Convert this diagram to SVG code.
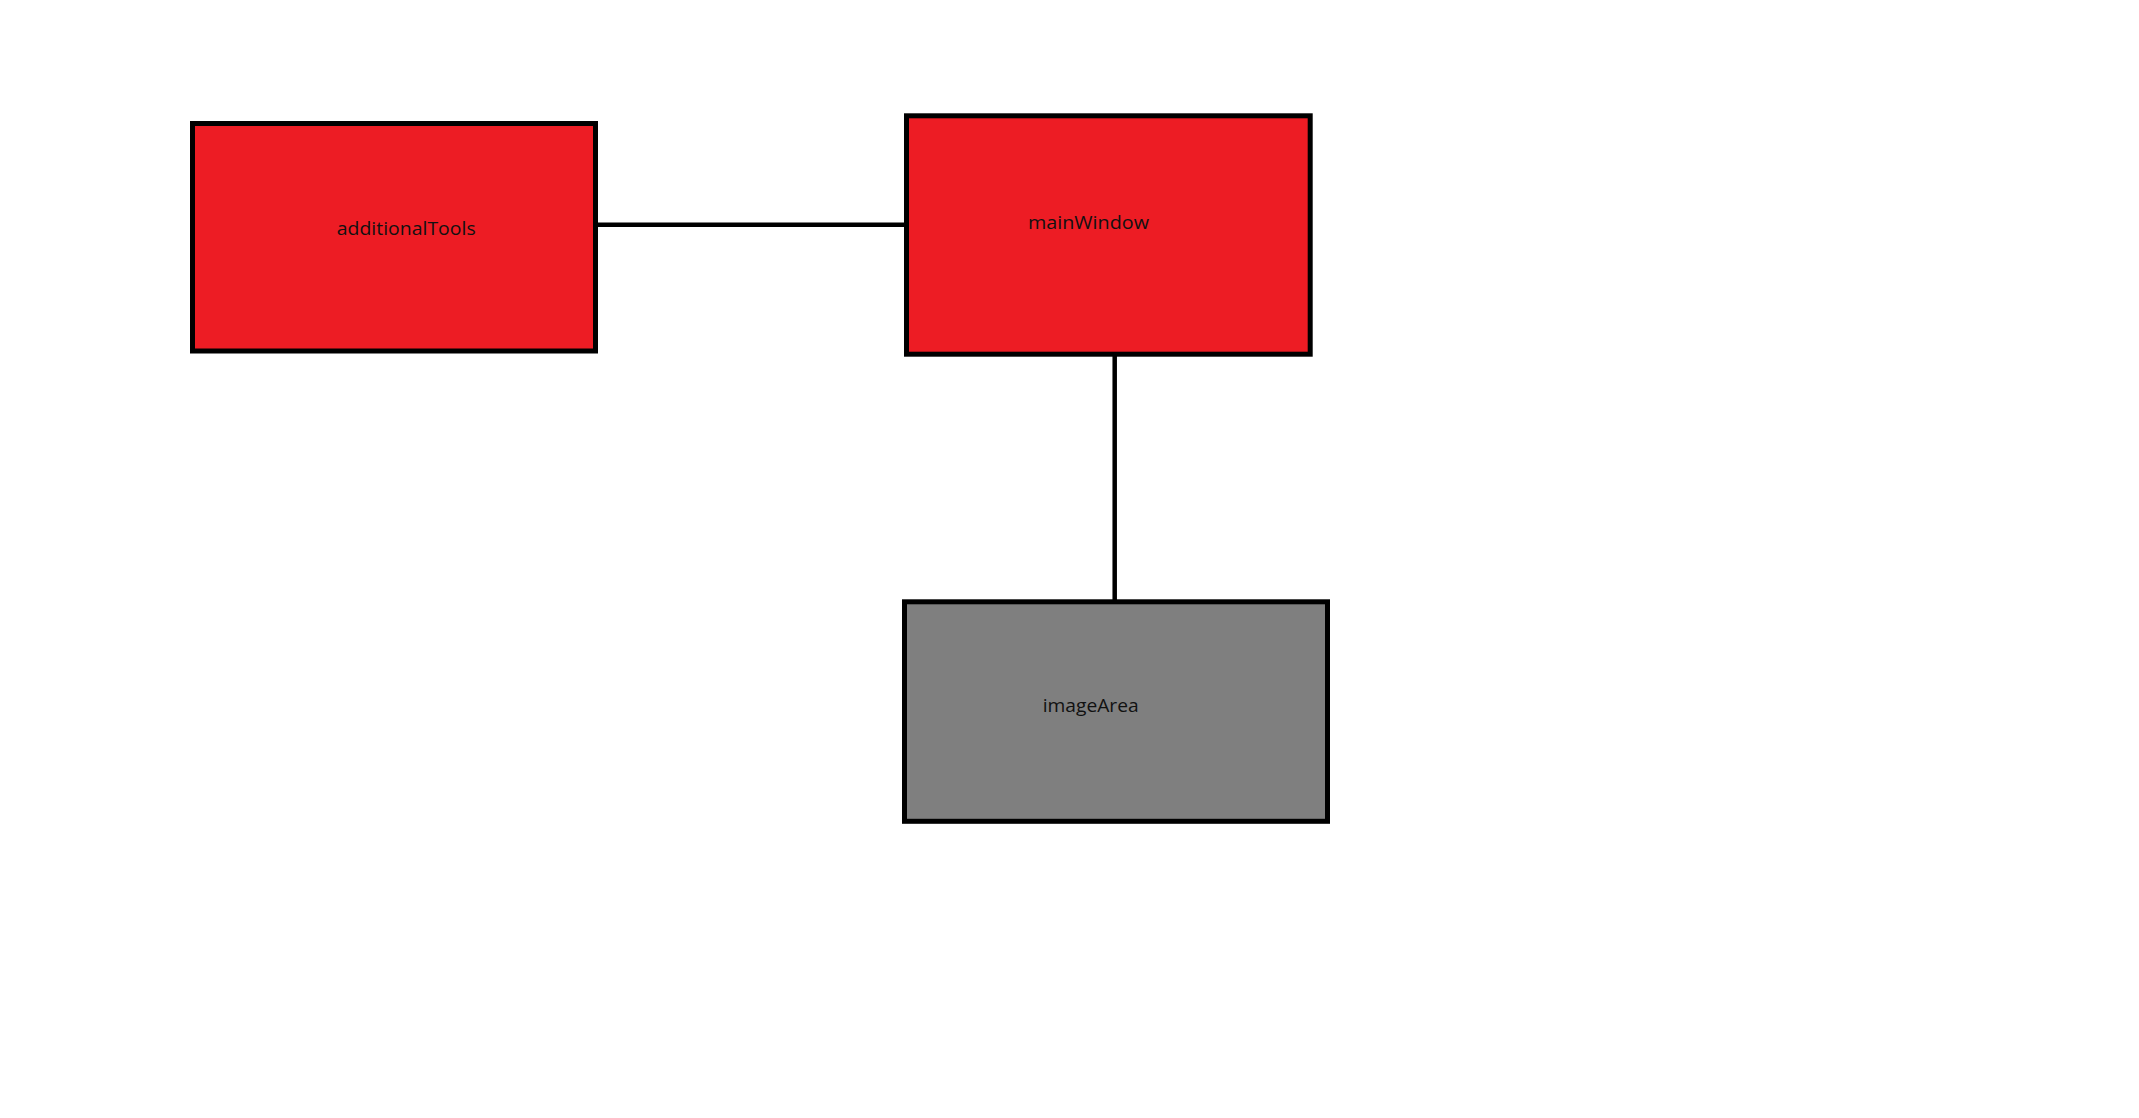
<svg xmlns="http://www.w3.org/2000/svg" width="2139" height="1118" viewBox="0 0 2139 1118">
<style>
.box{stroke:#000;stroke-width:5}
.red{fill:#ED1C24}
.gray{fill:#7F7F7F}
.lbl{font-family:"Open Sans","Liberation Sans",sans-serif;font-size:18px;fill:#111}
.conn{stroke:#000;stroke-width:4.5;fill:none}
</style>
<rect width="2139" height="1118" fill="#fff"/>
<g id="connectors">
<line class="conn" x1="598" y1="224.7" x2="910" y2="224.7"/>
<line class="conn" x1="1114.7" y1="356" x2="1114.7" y2="600"/>
</g>
<g id="additionalTools">
<rect class="box red" x="192.5" y="123.5" width="403" height="227.5"/>
<text class="lbl" x="336.7" y="235" textLength="139" lengthAdjust="spacingAndGlyphs">additionalTools</text>
</g>
<g id="mainWindow">
<rect class="box red" x="906.5" y="115.8" width="403.7" height="238.4"/>
<text class="lbl" x="1028" y="229.3" textLength="121" lengthAdjust="spacingAndGlyphs">mainWindow</text>
</g>
<g id="imageArea">
<rect class="box gray" x="904.5" y="601.8" width="423" height="219.5"/>
<text class="lbl" x="1042.7" y="711.7" textLength="96" lengthAdjust="spacingAndGlyphs">imageArea</text>
</g>
</svg>
